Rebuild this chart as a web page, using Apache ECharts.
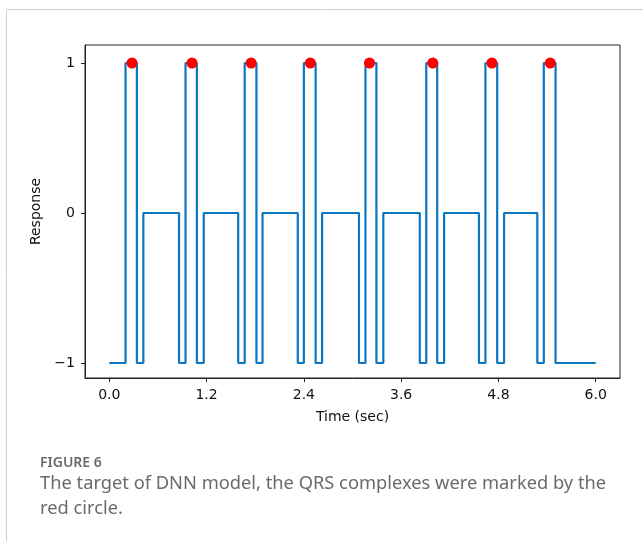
<!DOCTYPE html>
<html>
<head>
<meta charset="utf-8">
<script src="https://cdn.jsdelivr.net/npm/echarts@6/dist/echarts.min.js"></script>
<style>
  html, body { margin: 0; padding: 0; background: #fff; }
  #chart { width: 643px; height: 541px; }
</style>
</head>
<body>
<div id="chart"></div>
<script>
  // step target: level holds from each time until the next one
  const stepTimes = [0.0, 0.20, 0.34, 0.42, 0.86, 0.94, 1.08, 1.165, 1.59, 1.67, 1.815, 1.89,
    2.325, 2.40, 2.545, 2.625, 3.08, 3.16, 3.295, 3.38, 3.83, 3.91, 4.045, 4.13,
    4.56, 4.64, 4.785, 4.87, 5.28, 5.36, 5.505, 6.0];
  const stepLevels = [-1, 1, -1, 0, -1, 1, -1, 0, -1, 1, -1, 0,
    -1, 1, -1, 0, -1, 1, -1, 0, -1, 1, -1, 0,
    -1, 1, -1, 0, -1, 1, -1, -1];
  // QRS marks (red circles)
  const qrsTimes = [0.28, 1.02, 1.75, 2.48, 3.21, 3.99, 4.72, 5.44];
  const qrsValues = [1, 1, 1, 1, 1, 1, 1, 1];
  const xTicks = [0, 1.2, 2.4, 3.6, 4.8, 6.0];
  const yTicks = [-1, 0, 1];

  const stepData = stepTimes.map(function (t, i) { return [t, stepLevels[i]]; });
  const qrsData = qrsTimes.map(function (t, i) { return [t, qrsValues[i]]; });

  const tickFont = { fontFamily: 'DejaVu Sans', fontSize: 14, color: '#111' };

  const chart = echarts.init(document.getElementById('chart'));
  const option = {
    animation: false,
    backgroundColor: '#fff',
    grid: {
      left: 85, top: 45, width: 535, height: 333,
      show: true, borderColor: '#222', borderWidth: 1, backgroundColor: 'transparent'
    },
    graphic: [
      {
        type: 'rect',
        shape: { x: 6.5, y: 9.5, width: 700, height: 600 },
        style: { fill: 'none', stroke: '#cfcfcf', lineWidth: 1 },
        silent: true
      },
      {
        type: 'text', left: 40, top: 456,
        style: { text: 'FIGURE 6', fontFamily: 'Noto Sans', fontSize: 14, fontWeight: 600, fill: '#6b6b6b' }
      },
      {
        type: 'text', left: 40, top: 471,
        style: {
          text: 'The target of DNN model, the QRS complexes were marked by the\nred circle.',
          fontFamily: 'Noto Sans', fontSize: 18.3, lineHeight: 25, fill: '#6a6a6a'
        }
      }
    ],
    xAxis: {
      type: 'value',
      min: -0.3,
      max: 6.3,
      name: 'Time (sec)',
      nameLocation: 'middle',
      nameGap: 32,
      nameTextStyle: tickFont,
      splitLine: { show: false },
      axisLine: { show: true, onZero: false, lineStyle: { color: '#222', width: 1 } },
      axisTick: { show: true, length: 4, customValues: xTicks, lineStyle: { color: '#222' } },
      axisLabel: {
        customValues: xTicks,
        margin: 10,
        formatter: function (v) { return v.toFixed(1); },
        fontFamily: tickFont.fontFamily, fontSize: tickFont.fontSize, color: '#111'
      }
    },
    yAxis: {
      type: 'value',
      min: -1.1,
      max: 1.12,
      name: 'Response',
      nameLocation: 'middle',
      nameGap: 31,
      nameTextStyle: tickFont,
      splitLine: { show: false },
      axisLine: { show: true, onZero: false, lineStyle: { color: '#222', width: 1 } },
      axisTick: { show: true, length: 4, customValues: yTicks, lineStyle: { color: '#222' } },
      axisLabel: {
        customValues: yTicks,
        margin: 10,
        formatter: function (v) { return v < 0 ? '\u2212' + Math.abs(v) : String(v); },
        fontFamily: tickFont.fontFamily, fontSize: tickFont.fontSize, color: '#111'
      }
    },
    series: [
      {
        name: 'target',
        type: 'line',
        step: 'end',
        data: stepData,
        showSymbol: false,
        lineStyle: { color: '#0b77c0', width: 2.2 },
        z: 2
      },
      {
        name: 'QRS',
        type: 'scatter',
        data: qrsData,
        symbol: 'circle',
        symbolSize: 11,
        itemStyle: { color: '#ff0000', opacity: 1 },
        z: 3
      }
    ]
  };
  chart.setOption(option);
</script>
</body>
</html>
